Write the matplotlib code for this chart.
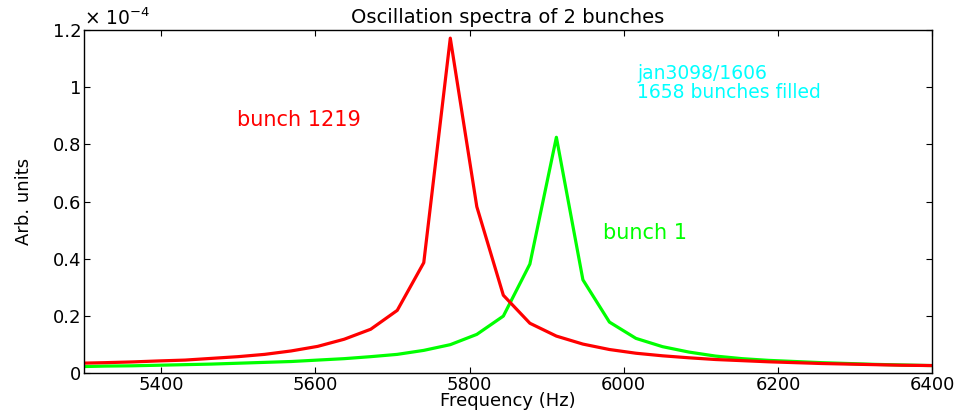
import matplotlib.pyplot as plt
from matplotlib.ticker import FuncFormatter

plt.rcParams['font.family'] = ['DejaVu Sans']

# frequencies of the spectrum bins (Hz)
freq = [5293.4, 5327.8, 5362.2, 5396.6, 5431.0, 5465.4, 5499.8, 5534.2, 5568.6,
        5603.0, 5637.4, 5671.8, 5706.2, 5740.6, 5775.0, 5809.4, 5843.8, 5878.2,
        5912.6, 5947.0, 5981.4, 6015.8, 6050.2, 6084.6, 6119.0, 6153.4, 6187.8,
        6222.2, 6256.6, 6291.0, 6325.4, 6359.8, 6394.2, 6428.6]

# amplitudes in units of 1e-4
bunch_1219 = [0.034, 0.036, 0.0385, 0.042, 0.045, 0.051, 0.057, 0.065, 0.077,
              0.093, 0.118, 0.153, 0.219, 0.386, 1.172, 0.582, 0.272, 0.174,
              0.129, 0.101, 0.082, 0.069, 0.060, 0.053, 0.047, 0.043, 0.039,
              0.036, 0.033, 0.031, 0.029, 0.027, 0.026, 0.025]
bunch_1 = [0.022, 0.024, 0.025, 0.027, 0.029, 0.031, 0.034, 0.037, 0.040,
           0.045, 0.050, 0.057, 0.065, 0.079, 0.099, 0.135, 0.199, 0.381,
           0.825, 0.326, 0.178, 0.121, 0.092, 0.073, 0.059, 0.050, 0.044,
           0.040, 0.036, 0.033, 0.030, 0.028, 0.026, 0.025]

fig = plt.figure(figsize=(9.66, 4.13), dpi=100)
ax = fig.add_axes([0.087, 0.097, 0.878, 0.830])

ax.plot(freq, [v * 1e-4 for v in bunch_1], color=(0, 1, 0), lw=2.3)
ax.plot(freq, [v * 1e-4 for v in bunch_1219], color=(1, 0, 0), lw=2.3)

ax.set_xlim(5300, 6400)
ax.set_ylim(0, 1.2e-4)
ax.set_xticks([5400, 5600, 5800, 6000, 6200, 6400])
ax.set_yticks([0, 0.2e-4, 0.4e-4, 0.6e-4, 0.8e-4, 1.0e-4, 1.2e-4])
ax.yaxis.set_major_formatter(FuncFormatter(lambda v, p: '%g' % round(v * 1e4, 2)))
ax.tick_params(direction='in', top=True, right=True, labelsize=13, length=4, pad=2)
for s in ax.spines.values():
    s.set_linewidth(1.0)

ax.text(0.0, 1.003, r'$\times$ 10$^{-4}$', transform=ax.transAxes, fontsize=13.5,
        ha='left', va='bottom')

ax.set_title('Oscillation spectra of 2 bunches', fontsize=14, pad=5)
ax.set_xlabel('Frequency (Hz)', fontsize=13)
ax.xaxis.set_label_coords(0.5, -0.055)
ax.set_ylabel('Arb. units', fontsize=13, labelpad=14, family='Liberation Sans Narrow')

ax.text(5498, 0.885e-4, 'bunch 1219', color=(1, 0, 0), fontsize=15, va='center')
ax.text(5973, 0.49e-4, 'bunch 1', color=(0, 1, 0), fontsize=15, va='center')
ax.text(6017, 1.083e-4, 'jan3098/1606\n1658 bunches filled', color=(0, 1, 1),
        fontsize=13.5, va='top', linespacing=1.0)

fig.savefig('out.png', dpi=100)
